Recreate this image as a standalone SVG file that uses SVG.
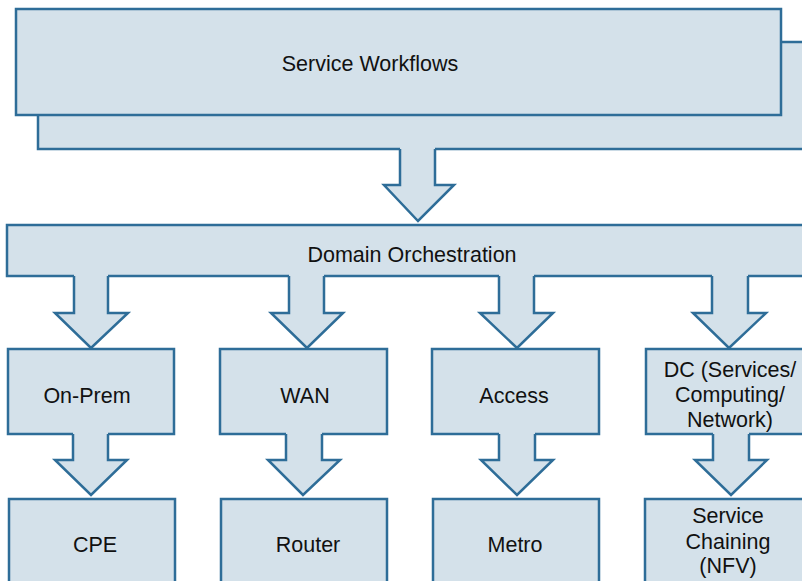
<svg xmlns="http://www.w3.org/2000/svg" width="802" height="581" viewBox="0 0 802 581">
<style>
.box{fill:#d4e1ea;stroke:#2e6d98;stroke-width:2.5}
.af{fill:#d4e1ea;stroke:none}
.as{fill:none;stroke:#2e6d98;stroke-width:2.5;stroke-linejoin:miter}
text{font-family:"Liberation Sans",Arial,sans-serif;font-size:21.5px;fill:#111;text-anchor:middle}
</style>
<rect width="802" height="581" fill="#fff"/>
<g id="service-workflows">
<rect class="box" x="38" y="42" width="780" height="107"/>
<rect class="box" x="16" y="9" width="765" height="106"/>
<text x="370" y="71">Service Workflows</text>
</g>
<g id="domain-orchestration">
<rect class="box" x="7" y="225" width="810" height="51"/>
<text x="412" y="262">Domain Orchestration</text>
</g>
<g id="on-prem">
<rect class="box" x="8" y="349" width="166" height="85"/>
<text x="87" y="403">On-Prem</text>
</g>
<g id="wan">
<rect class="box" x="220" y="349" width="167" height="85"/>
<text x="305" y="403">WAN</text>
</g>
<g id="access">
<rect class="box" x="432" y="349" width="167" height="85"/>
<text x="514" y="403">Access</text>
</g>
<g id="dc">
<rect class="box" x="646" y="349" width="170" height="85"/>
<text x="730" y="377">DC (Services/</text>
<text x="730" y="402">Computing/</text>
<text x="730" y="427">Network)</text>
</g>
<g id="cpe">
<rect class="box" x="9" y="499" width="166" height="95"/>
<text x="95" y="552">CPE</text>
</g>
<g id="router">
<rect class="box" x="221" y="499" width="166" height="95"/>
<text x="308" y="552">Router</text>
</g>
<g id="metro">
<rect class="box" x="433" y="499" width="166" height="95"/>
<text x="515" y="552">Metro</text>
</g>
<g id="service-chaining">
<rect class="box" x="645" y="499" width="170" height="95"/>
<text x="728" y="523">Service</text>
<text x="728" y="549">Chaining</text>
<text x="728" y="573">(NFV)</text>
</g>
<g id="connectors">
<!-- Service Workflows -> Domain Orchestration -->
<polygon class="af" points="400,147 435,147 435,185 454,185 418,221 384,185 400,185"/>
<polyline class="as" points="400,149 400,185 384,185 418,221 454,185 435,185 435,149"/>
<!-- Domain Orchestration -> On-Prem -->
<polygon class="af" points="74,274 108,274 108,313 128,313 91,348 55,313 74,313"/>
<polyline class="as" points="74,276 74,313 55,313 91,348 128,313 108,313 108,276"/>
<!-- Domain Orchestration -> WAN -->
<polygon class="af" points="289,274 324,274 324,313 343,313 307,348 271,313 289,313"/>
<polyline class="as" points="289,276 289,313 271,313 307,348 343,313 324,313 324,276"/>
<!-- Domain Orchestration -> Access -->
<polygon class="af" points="499,274 534,274 534,313 553,313 517,348 480,313 499,313"/>
<polyline class="as" points="499,276 499,313 480,313 517,348 553,313 534,313 534,276"/>
<!-- Domain Orchestration -> DC -->
<polygon class="af" points="712,274 748,274 748,313 766,313 729,348 693,313 712,313"/>
<polyline class="as" points="712,276 712,313 693,313 729,348 766,313 748,313 748,276"/>
<!-- On-Prem -> CPE -->
<polygon class="af" points="73,432 108,432 108,460 127,460 91,495 55,460 73,460"/>
<polyline class="as" points="73,434 73,460 55,460 91,495 127,460 108,460 108,434"/>
<!-- WAN -> Router -->
<polygon class="af" points="286,432 322,432 322,460 340,460 303,495 268,460 286,460"/>
<polyline class="as" points="286,434 286,460 268,460 303,495 340,460 322,460 322,434"/>
<!-- Access -> Metro -->
<polygon class="af" points="499,432 535,432 535,460 553,460 517,495 481,460 499,460"/>
<polyline class="as" points="499,434 499,460 481,460 517,495 553,460 535,460 535,434"/>
<!-- DC -> Service Chaining -->
<polygon class="af" points="713,432 749,432 749,460 767,460 731,495 695,460 713,460"/>
<polyline class="as" points="713,434 713,460 695,460 731,495 767,460 749,460 749,434"/>
</g>
</svg>
